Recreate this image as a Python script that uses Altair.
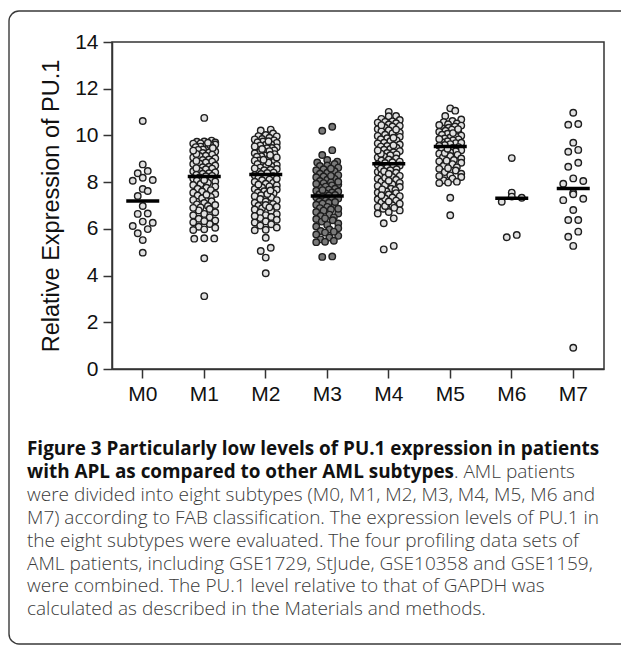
import altair as alt
import pandas as pd

categories = ["M0", "M1", "M2", "M3", "M4", "M5", "M6", "M7"]

m0 = [10.62, 8.76, 8.48, 8.38, 8.19, 8.09, 8.06, 7.71, 7.62, 7.41, 6.98, 6.66,
      6.64, 6.31, 6.26, 6.12, 5.99, 5.81, 5.52, 4.98]

m1 = [10.75, 9.78, 9.74, 9.73, 9.70, 9.66, 9.65, 9.61, 9.55, 9.52, 9.50, 9.44,
      9.40, 9.38, 9.31, 9.27, 9.25, 9.18, 9.13, 9.12, 9.06, 9.02, 8.97, 8.95,
      8.88, 8.84, 8.80, 8.78, 8.71, 8.66, 8.64, 8.58, 8.55, 8.49, 8.47, 8.42,
      8.38, 8.36, 8.31, 8.27, 8.25, 9.58, 9.46, 9.21, 8.91, 8.60, 9.69, 9.35,
      8.20, 8.16, 8.12, 8.07, 8.03, 7.97, 7.92, 7.88, 7.81, 7.76, 7.72, 7.66,
      7.60, 7.55, 7.49, 7.43, 7.37, 7.31, 7.24, 7.18, 7.11, 7.05, 6.98, 6.92,
      6.85, 6.79, 6.71, 6.64, 6.58, 6.50, 6.43, 6.36, 6.28, 6.21, 6.09, 6.05,
      5.98, 5.95, 5.60, 5.59, 5.58, 4.74, 3.12, 7.02, 6.90, 7.46, 8.09, 6.33]

m2 = [10.25, 10.21, 10.08, 10.02, 9.97, 9.96, 9.90, 9.85, 9.83, 9.79, 9.74,
      9.71, 9.68, 9.61, 9.60, 9.57, 9.49, 9.46, 9.45, 9.39, 9.36, 9.30, 9.29,
      9.24, 9.20, 9.14, 9.11, 9.09, 9.02, 8.99, 8.93, 8.92, 8.87, 8.81, 8.78,
      8.74, 8.69, 8.67, 8.62, 8.56, 8.53, 8.51, 8.45, 8.41, 8.39, 8.35, 9.53,
      9.33, 9.06, 8.84, 8.59, 9.75, 9.42, 8.96, 9.16,
      8.30, 8.26, 8.21, 8.18, 8.11, 8.08, 8.02, 7.97, 7.93, 7.86, 7.82, 7.77,
      7.71, 7.68, 7.61, 7.56, 7.52, 7.44, 7.40, 7.35, 7.28, 7.23, 7.17, 7.12,
      7.06, 6.99, 6.95, 6.88, 6.83, 6.76, 6.70, 6.63, 6.59, 6.51, 6.46, 6.39,
      6.32, 6.27, 6.20, 6.14, 6.06, 5.96, 5.94, 5.62, 5.19, 5.05, 4.77, 4.10,
      7.90, 7.49, 7.02, 6.55, 8.14, 7.64, 6.92]

m3 = [10.37, 10.20, 9.37, 9.16, 8.95, 8.88, 8.84, 8.78, 8.71, 8.69, 8.62, 8.55,
      8.51, 8.47, 8.40, 8.36, 8.30, 8.24, 8.21, 8.14, 8.10, 8.05, 7.99, 7.96,
      7.90, 7.86, 7.81, 7.77, 7.72, 7.68, 7.63, 7.60, 7.56, 7.52, 7.48, 7.45,
      7.43, 8.58, 8.27, 7.93, 7.66, 8.02,
      7.38, 7.35, 7.30, 7.26, 7.21, 7.17, 7.12, 7.08, 7.03, 6.98, 6.94, 6.89,
      6.83, 6.78, 6.72, 6.66, 6.61, 6.55, 6.49, 6.42, 6.37, 6.31, 6.23, 6.17,
      6.10, 6.03, 5.97, 5.91, 5.84, 5.76, 5.70, 5.63, 5.55, 5.49, 5.45, 5.43,
      4.82, 4.80, 6.86, 7.15, 6.45, 5.88]

m4 = [11.01, 10.83, 10.82, 10.71, 10.66, 10.60, 10.58, 10.52, 10.47, 10.41,
      10.38, 10.33, 10.27, 10.22, 10.18, 10.12, 10.09, 10.03, 9.98, 9.94, 9.88,
      9.84, 9.79, 9.75, 9.69, 9.66, 9.61, 9.55, 9.52, 9.47, 9.42, 9.39, 9.33,
      9.28, 9.25, 9.19, 9.15, 9.10, 9.06, 9.01, 8.97, 8.93, 8.88, 8.85, 8.82,
      10.55, 10.25, 9.90, 9.58, 9.22, 10.44, 9.36,
      8.76, 8.71, 8.66, 8.62, 8.55, 8.51, 8.44, 8.40, 8.33, 8.27, 8.22, 8.15,
      8.10, 8.03, 7.97, 7.91, 7.84, 7.79, 7.72, 7.66, 7.60, 7.53, 7.47, 7.40,
      7.34, 7.27, 7.21, 7.14, 7.08, 7.01, 6.94, 6.86, 6.79, 6.72, 6.66, 6.45,
      6.24, 5.27, 5.12, 8.58, 8.19, 7.88, 7.56, 7.30, 6.98, 8.47, 8.06, 7.69,
      7.17, 6.90, 8.36, 7.44]

m5 = [11.16, 11.06, 10.83, 10.68, 10.62, 10.57, 10.51, 10.48, 10.42, 10.38,
      10.33, 10.29, 10.25, 10.20, 10.16, 10.12, 10.07, 10.03, 9.99, 9.95, 9.91,
      9.87, 9.83, 9.79, 9.75, 9.71, 9.67, 9.63, 9.59, 9.56, 10.45, 10.10, 9.85,
      9.69, 10.27,
      9.50, 9.46, 9.41, 9.37, 9.32, 9.28, 9.22, 9.17, 9.12, 9.06, 9.01, 8.95,
      8.89, 8.83, 8.77, 8.70, 8.64, 8.57, 8.50, 8.43, 8.36, 8.29, 8.22, 8.15,
      8.08, 8.02, 7.98, 7.96, 7.33, 6.58, 9.25, 8.92, 8.60, 8.26, 9.43]

m6 = [9.03, 7.55, 7.33, 7.38, 7.16, 5.64, 5.74]

m7 = [10.97, 10.49, 10.46, 9.69, 9.30, 9.38, 8.83, 8.66, 8.16, 8.05, 7.93,
      7.55, 7.48, 7.29, 7.23, 6.81, 6.38, 6.38, 5.88, 5.66, 5.27, 0.91]

medians = [7.19, 8.24, 8.33, 7.41, 8.79, 9.53, 7.31, 7.73]

caption_bold_1 = "Figure 3 Particularly low levels of PU.1 expression in patients"
caption_bold_2 = "with APL as compared to other AML subtypes"
caption_reg_2 = ". AML patients"
caption_lines = [
    "were divided into eight subtypes (M0, M1, M2, M3, M4, M5, M6 and",
    "M7) according to FAB classification. The expression levels of PU.1 in",
    "the eight subtypes were evaluated. The four profiling data sets of",
    "AML patients, including GSE1729, StJude, GSE10358 and GSE1159,",
    "were combined. The PU.1 level relative to that of GAPDH was",
    "calculated as described in the Materials and methods.",
]

groups = [m0, m1, m2, m3, m4, m5, m6, m7]


def swarm_offsets(vals, row=0.28, spacing=10.0, max_half=11.0):
    order = sorted(range(len(vals)), key=lambda i: vals[i])
    rows, cur, start = [], [], None
    for i in order:
        v = vals[i]
        if cur and v - start > row:
            rows.append(cur)
            cur = []
        if not cur:
            start = v
        cur.append(i)
    if cur:
        rows.append(cur)
    offs_all = [0.0] * len(vals)
    for r in rows:
        k = len(r)
        if k == 1:
            offs = [0.0]
        else:
            half = min(max_half, spacing * (k - 1) / 2)
            offs = [-half + 2 * half * j / (k - 1) for j in range(k)]
            offs = offs[::2] + offs[1::2]
        for idx, o in zip(r, offs):
            offs_all[idx] = o
    return offs_all


rows = []
for cat, vals in zip(categories, groups):
    for v, o in zip(vals, swarm_offsets(vals)):
        rows.append({"group": cat, "value": v, "off": o})
df = pd.DataFrame(rows)
med_df = pd.DataFrame({"group": categories, "median": medians})

W, H = 492, 327
band = W / len(categories)

x_enc = alt.X(
    "group:N", sort=categories, title=None,
    scale=alt.Scale(domain=categories, paddingInner=0, paddingOuter=0),
    axis=alt.Axis(labelAngle=0, labelFontSize=21, labelFont="Liberation Sans",
                  labelColor="#111111", tickSize=9, labelPadding=5),
)
y_enc_kw = dict(
    scale=alt.Scale(domain=[0, 14], nice=False),
    axis=alt.Axis(values=list(range(0, 15, 2)), title="Relative Expression of PU.1",
                  titleFontSize=23.5, titleFont="Liberation Sans", titleFontWeight="normal",
                  titleColor="#111111", titlePadding=11, labelFontSize=21,
                  labelFont="Liberation Sans", labelColor="#111111", tickSize=9,
                  labelPadding=5, grid=False),
)

one = pd.DataFrame({"k": [0]})

box = alt.Chart(one).mark_rect(
    fillOpacity=0, stroke="#3a3a3a", strokeWidth=1.4, cornerRadius=10
).encode(
    x=alt.value(-103), x2=alt.value(530), y=alt.value(-31), y2=alt.value(602)
)

points = alt.Chart(df).mark_circle(
    size=42, opacity=1, stroke="#1e1e1e", strokeWidth=1.4
).encode(
    x=x_enc,
    xOffset=alt.XOffset("off:Q", scale=alt.Scale(domain=[-band / 2, band / 2])),
    y=alt.Y("value:Q", **y_enc_kw),
    fill=alt.condition(alt.datum.group == "M3", alt.value("#7a7a7a"), alt.value("#e1e1e1")),
)

ticks = alt.Chart(med_df).mark_tick(color="#000000", opacity=1, thickness=3.5, size=33).encode(
    x=x_enc,
    y=alt.Y("median:Q", **y_enc_kw),
)

cap_x = -85
cap_y0 = 407
dy = 22.9
bold_size = 18.9
reg_size = 19.0

texts = []
texts.append(alt.Chart(one).mark_text(
    align="left", baseline="middle", font="Open Sans", fontSize=bold_size,
    fontWeight="bold", color="#111111", text=caption_bold_1
).encode(x=alt.value(cap_x), y=alt.value(cap_y0)))
texts.append(alt.Chart(one).mark_text(
    align="left", baseline="middle", font="Open Sans", fontSize=bold_size,
    fontWeight="bold", color="#111111", text=caption_bold_2
).encode(x=alt.value(cap_x), y=alt.value(cap_y0 + dy)))
texts.append(alt.Chart(one).mark_text(
    align="left", baseline="middle", font="Open Sans", fontSize=reg_size,
    fontWeight=300, color="#3a3a3a", text=caption_reg_2
).encode(x=alt.value(342), y=alt.value(cap_y0 + dy)))
for i, line in enumerate(caption_lines):
    texts.append(alt.Chart(one).mark_text(
        align="left", baseline="middle", font="Open Sans", fontSize=reg_size,
        fontWeight=300, color="#3a3a3a", text=line
    ).encode(x=alt.value(cap_x), y=alt.value(cap_y0 + dy * (i + 2))))

chart = alt.layer(box, points, ticks, *texts).properties(
    width=W, height=H,
    autosize=alt.AutoSizeParams(type="none"),
    padding={"left": 104, "top": 34, "right": 17, "bottom": 277},
).configure_view(
    stroke="#333333", strokeWidth=1.5
).configure_axis(
    domainColor="#333333", domainWidth=1.5, tickColor="#333333", tickWidth=1.5
)

chart.save("out.html", embed_options={"renderer": "svg", "actions": False})
